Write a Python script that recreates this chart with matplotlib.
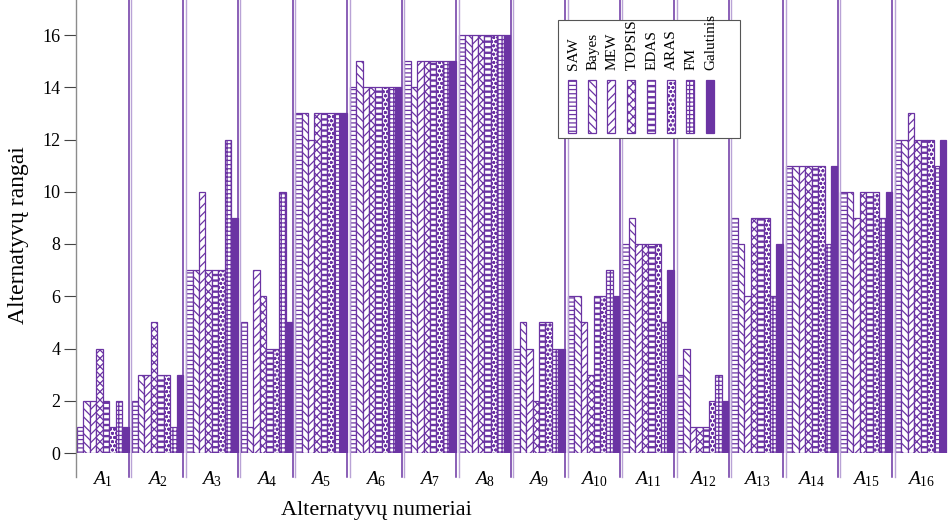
import numpy as np
import matplotlib
matplotlib.use('Agg')
import matplotlib.pyplot as plt
from matplotlib.patches import Rectangle

plt.rcParams['font.family'] = ['Liberation Serif', 'DejaVu Serif']
plt.rcParams['mathtext.fontset'] = 'custom'
plt.rcParams['mathtext.it'] = 'Liberation Serif:italic'
plt.rcParams['mathtext.rm'] = 'Liberation Serif'
plt.rcParams['hatch.linewidth'] = 0.9

PURPLE = '#6B34A3'
LIGHT = '#B9A3D6'

alternatives = [f'$A_{{{i}}}$' for i in range(1, 17)]
methods = ['SAW', 'Bayes', 'MEW', 'TOPSIS', 'EDAS', 'ARAS', 'FM', 'Galutinis']

saw = [1, 2, 7, 5, 13, 14, 15, 16, 4, 6, 8, 3, 9, 11, 10, 12]
bayes = [2, 3, 7, 1, 13, 15, 14, 16, 5, 6, 9, 4, 8, 11, 10, 12]
mew = [2, 3, 10, 7, 12, 14, 15, 16, 4, 5, 8, 1, 6, 11, 9, 13]
topsis = [4, 5, 7, 6, 13, 14, 15, 16, 2, 3, 8, 1, 9, 11, 10, 12]
edas = [2, 3, 7, 4, 13, 14, 15, 16, 5, 6, 8, 1, 9, 11, 10, 12]
aras = [1, 3, 7, 4, 13, 14, 15, 16, 5, 6, 8, 2, 9, 11, 10, 12]
fm = [2, 1, 12, 10, 13, 14, 15, 16, 4, 7, 5, 3, 6, 8, 9, 11]
galutinis = [1, 3, 9, 5, 13, 14, 15, 16, 4, 6, 7, 2, 8, 11, 10, 12]

series = [saw, bayes, mew, topsis, edas, aras, fm, galutinis]
hatches = ['----', '\\\\\\\\', '////', 'xxxx', '---', 'oooo', '++++', None]


def bar_style(hatch):
    if hatch is None:
        return dict(facecolor=PURPLE, edgecolor=PURPLE)
    return dict(facecolor='white', edgecolor=PURPLE, hatch=hatch)


def thicken(patch):
    if hasattr(patch, 'set_hatch_linewidth'):
        patch.set_hatch_linewidth(1.7)


def main():
    W, H = 948, 523
    fig = plt.figure(figsize=(W / 100, H / 100), dpi=100)
    ax = fig.add_axes([75.5 / W, 70 / H, (W - 75.5) / W, 453 / H])

    x = np.arange(len(alternatives))
    width = 0.118
    for j, (vals, hatch) in enumerate(zip(series, hatches)):
        bars = ax.bar(x + 0.5 + (j - 3.5) * width, vals, width,
                      linewidth=0.9, **bar_style(hatch))
        if methods[j] == 'EDAS':
            for b in bars:
                thicken(b)

    ax.set_xlim(0, len(alternatives))
    ax.set_ylim(0, 453 / 26.125)
    below = -0.92 / (453 / 26.125)

    # group separators (double lines), left one is the axis
    ax.axvline(0.01, ymin=below, ymax=1, color='#8C8C8C', lw=1.0, clip_on=False)
    for k in range(1, len(alternatives)):
        ax.axvline(k - 0.02, ymin=below, ymax=1, color=PURPLE, lw=1.1, clip_on=False)
        ax.axvline(k + 0.025, ymin=below, ymax=1, color=LIGHT, lw=1.0, clip_on=False)

    for s in ax.spines.values():
        s.set_visible(False)

    ax.set_xticks(x + 0.5)
    ax.set_xticklabels(alternatives, fontsize=14)
    ax.tick_params(axis='x', length=0, pad=12)
    ax.set_yticks(range(0, 17, 2))
    ax.tick_params(axis='y', length=9, width=0.8, color='#444444', labelsize=13, pad=2)

    fig.text(376 / W, 1 - 510 / H, 'Alternatyvų numeriai', ha='center', va='center', fontsize=16)
    fig.text(19 / W, 1 - 235 / H, 'Alternatyvų rangai', rotation=90,
             ha='center', va='center', fontsize=17)

    # legend: vertical labels above tall swatches
    fig.add_artist(Rectangle((558 / W, 1 - 138 / H), (740 - 558) / W, (138 - 20) / H,
                             transform=fig.transFigure, facecolor='white',
                             edgecolor='#555555', lw=0.8, zorder=5))
    for j, (name, hatch) in enumerate(zip(methods, hatches)):
        cx = 572 + j * 19.7
        fig.text((cx + 1) / W, 1 - 70 / H, name, rotation=90, ha='center', va='bottom',
                 fontsize=11, zorder=6)
        sw = fig.add_artist(Rectangle(((cx - 4) / W, 1 - 133 / H), 8 / W, 53 / H,
                                      transform=fig.transFigure, linewidth=0.9, zorder=6,
                                      **bar_style(hatch)))
        if name == 'EDAS':
            thicken(sw)

    fig.savefig('out.png', dpi=100)


if __name__ == '__main__':
    main()
